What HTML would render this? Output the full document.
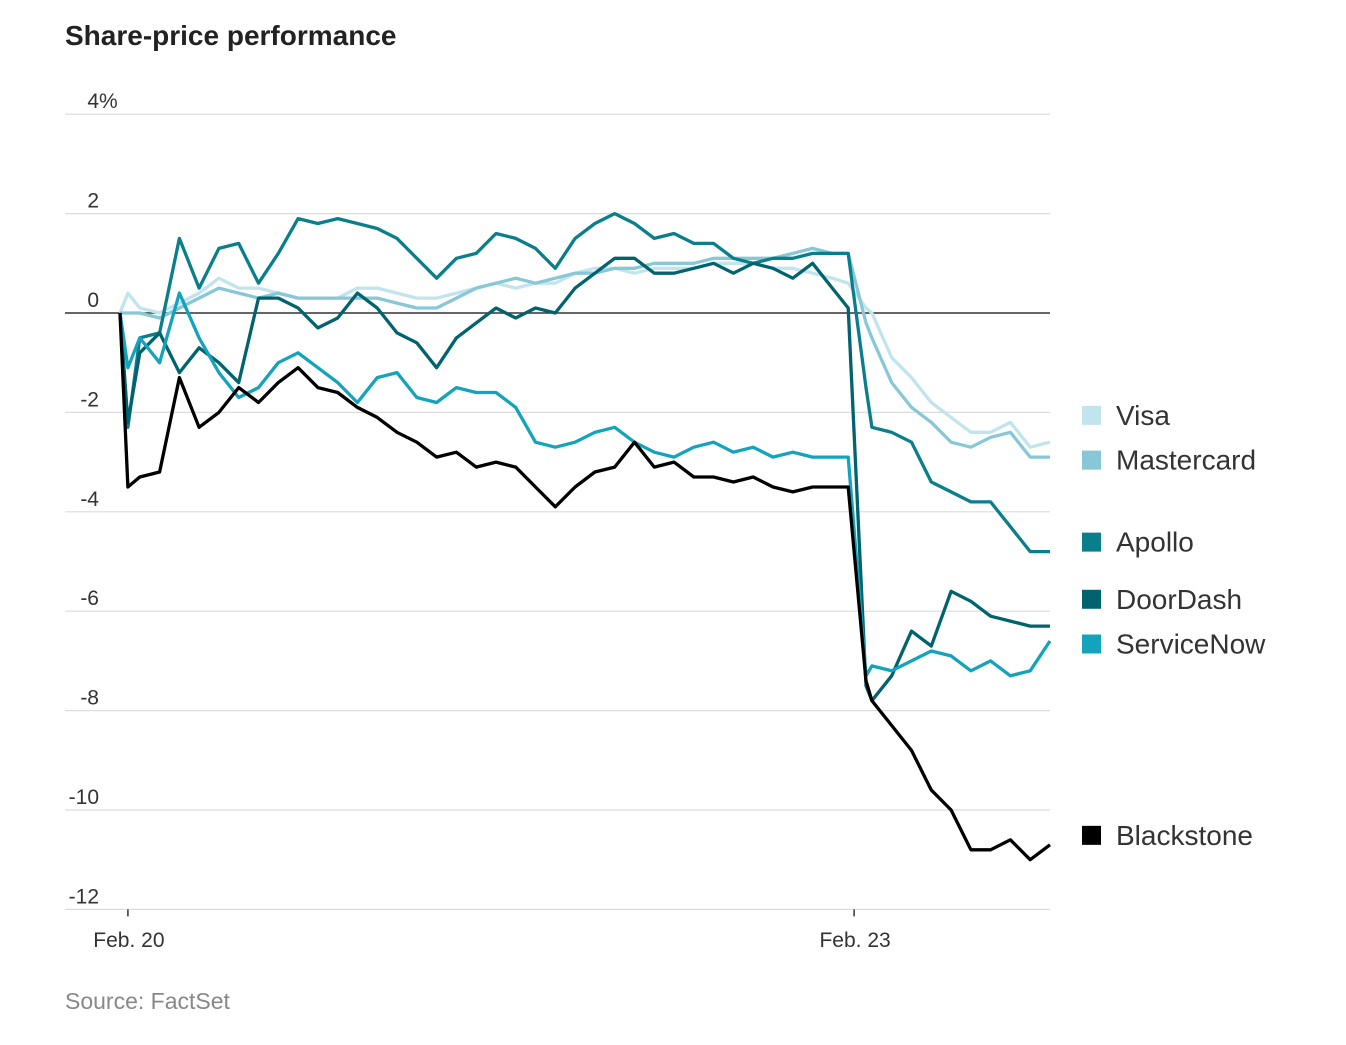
<!DOCTYPE html>
<html><head><meta charset="utf-8"><style>
html,body{margin:0;padding:0;background:#fff;}
body{width:1346px;height:1040px;overflow:hidden;font-family:"Liberation Sans",sans-serif;}
</style></head><body>
<svg id="chart" width="1346" height="1040" xmlns="http://www.w3.org/2000/svg" font-family="Liberation Sans, sans-serif">
<text x="65" y="45" font-size="28" font-weight="bold" fill="#222">Share-price performance</text>
<g id="grid"></g><g id="series"></g><g id="legend"></g>
<text x="65" y="1009" font-size="23" fill="#888">Source: FactSet</text>
</svg>
<script>
const times=[0,0.4,1,2,3,4,5,6,7,8,9,10,11,12,13,14,15,16,17,18,19,20,21,22,23,24,25,26,27,28,29,30,31,32,33,34,35,36,36.8,37.7,38,39,40,41,42,43,44,45,46,47];
const visa=[0,0.4,0.1,0.0,0.2,0.4,0.7,0.5,0.5,0.4,0.3,0.3,0.3,0.5,0.5,0.4,0.3,0.3,0.4,0.5,0.6,0.5,0.6,0.6,0.8,0.9,0.9,0.8,0.9,0.9,0.9,1.0,1.0,1.0,0.9,0.9,0.8,0.7,0.6,0.1,0.0,-0.9,-1.3,-1.8,-2.1,-2.4,-2.4,-2.2,-2.7,-2.6];
const mastercard=[0,0.0,0.0,-0.1,0.1,0.3,0.5,0.4,0.3,0.4,0.3,0.3,0.3,0.3,0.3,0.2,0.1,0.1,0.3,0.5,0.6,0.7,0.6,0.7,0.8,0.8,0.9,0.9,1.0,1.0,1.0,1.1,1.1,1.1,1.1,1.2,1.3,1.2,1.2,-0.2,-0.5,-1.4,-1.9,-2.2,-2.6,-2.7,-2.5,-2.4,-2.9,-2.9];
const apollo=[0,-2.3,-0.5,-0.4,1.5,0.5,1.3,1.4,0.6,1.2,1.9,1.8,1.9,1.8,1.7,1.5,1.1,0.7,1.1,1.2,1.6,1.5,1.3,0.9,1.5,1.8,2.0,1.8,1.5,1.6,1.4,1.4,1.1,1.0,1.1,1.1,1.2,1.2,1.2,-1.5,-2.3,-2.4,-2.6,-3.4,-3.6,-3.8,-3.8,-4.3,-4.8,-4.8];
const doordash=[0,-2.2,-0.8,-0.4,-1.2,-0.7,-1.0,-1.4,0.3,0.3,0.1,-0.3,-0.1,0.4,0.1,-0.4,-0.6,-1.1,-0.5,-0.2,0.1,-0.1,0.1,0.0,0.5,0.8,1.1,1.1,0.8,0.8,0.9,1.0,0.8,1.0,0.9,0.7,1.0,0.5,0.1,-7.5,-7.8,-7.3,-6.4,-6.7,-5.6,-5.8,-6.1,-6.2,-6.3,-6.3];
const servicenow=[0,-1.1,-0.5,-1.0,0.4,-0.5,-1.2,-1.7,-1.5,-1.0,-0.8,-1.1,-1.4,-1.8,-1.3,-1.2,-1.7,-1.8,-1.5,-1.6,-1.6,-1.9,-2.6,-2.7,-2.6,-2.4,-2.3,-2.6,-2.8,-2.9,-2.7,-2.6,-2.8,-2.7,-2.9,-2.8,-2.9,-2.9,-2.9,-7.3,-7.1,-7.2,-7.0,-6.8,-6.9,-7.2,-7.0,-7.3,-7.2,-6.6];
const blackstone=[0,-3.5,-3.3,-3.2,-1.3,-2.3,-2.0,-1.5,-1.8,-1.4,-1.1,-1.5,-1.6,-1.9,-2.1,-2.4,-2.6,-2.9,-2.8,-3.1,-3.0,-3.1,-3.5,-3.9,-3.5,-3.2,-3.1,-2.6,-3.1,-3.0,-3.3,-3.3,-3.4,-3.3,-3.5,-3.6,-3.5,-3.5,-3.5,-7.4,-7.8,-8.3,-8.8,-9.6,-10.0,-10.8,-10.8,-10.6,-11.0,-10.7];
const yTicks=[4,2,0,-2,-4,-6,-8,-10,-12];
const xTickTimes=[0.4,37.1];
const xTickLabels=["Feb. 20","Feb. 23"];
const seriesNames=["Visa","Mastercard","Apollo","DoorDash","ServiceNow","Blackstone"];
const legendValues=[-2.05,-2.95,-4.6,-5.75,-6.65,-10.5];

const NS="http://www.w3.org/2000/svg";
const x=t=>120+t*(930/47);
const y=v=>313-v*49.7;
function mk(tag,attrs,parent){const e=document.createElementNS(NS,tag);for(const k in attrs)e.setAttribute(k,attrs[k]);parent.appendChild(e);return e;}
const grid=document.getElementById('grid');
yTicks.forEach(v=>{
  const l=mk('line',{x1:65,x2:1050,y1:y(v),y2:y(v),stroke:v===0?'#333':'#dcdcdc','stroke-width':v===0?1.5:1.2},grid);
  
  
  const t=mk('text',{x:99,y:y(v)-6,'font-size':21,fill:'#333','text-anchor':'end'},grid);
  t.textContent=String(v);
  
  
  if(v===4){const p=mk('text',{x:99,y:y(v)-6,'font-size':21,fill:'#333'},grid);p.textContent='%';
    
    }
});
xTickTimes.forEach((tt,i)=>{
  const l=mk('line',{x1:x(tt),x2:x(tt),y1:y(-12),y2:y(-12)+7,stroke:'#333','stroke-width':1.5},grid);
  
  
  const t=mk('text',{x:x(tt)+1,y:947,'font-size':21,fill:'#333','text-anchor':'middle'},grid);
  t.textContent=xTickLabels[i];
  
  
});
const colors=['#c2e4ec','#88c8d6','#0a7f8c','#00636e','#14a3bd','#000'];
const data=[visa,mastercard,apollo,doordash,servicenow,blackstone];
const sg=document.getElementById('series');
data.forEach((arr,i)=>{
  const d=arr.map((v,j)=>(j?'L':'M')+x(times[j]).toFixed(1)+','+y(v).toFixed(1)).join('');
  const p=mk('path',{d:d,fill:'none',stroke:colors[i],'stroke-width':3.3,'stroke-linejoin':'round'},sg);
  
  
});
const lg=document.getElementById('legend');
seriesNames.forEach((n,i)=>{
  const cy=y(legendValues[i]);
  const r=mk('rect',{x:1082,y:cy-9,width:19,height:19,fill:colors[i]},lg);
  
  
  const t=mk('text',{x:1116,y:cy+10,'font-size':28,fill:'#333'},lg);
  t.textContent=n;
  
  
});
</script>
</body></html>
